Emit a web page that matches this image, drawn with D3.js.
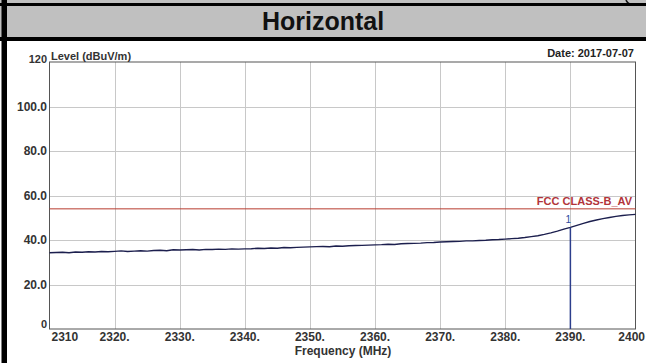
<!DOCTYPE html>
<meta charset="utf-8">
<script src="https://d3js.org/d3.v7.min.js"></script>
<style>
  body { margin: 0; background: #fff; }
  svg text { font-family: Arial, "Liberation Sans", sans-serif; }
</style>
<div id="viz"></div>
<script>
// chart data
const title = "Horizontal";
const dateLabel = "Date: 2017-07-07";
const yTicks = [0, 20, 40, 60, 80, 100, 120];
const yTickLabels = ["0", "20.0", "40.0", "60.0", "80.0", "100.0", "120"];
const xTicks = [2310, 2320, 2330, 2340, 2350, 2360, 2370, 2380, 2390, 2400];
const xTickLabels = ["2310", "2320.", "2330.", "2340.", "2350.", "2360.", "2370.", "2380.", "2390.", "2400"];
const freqStart = 2310, freqStep = 1;
const level = [
  34.3, 34.4, 34.5, 34.3, 34.6, 34.5, 34.7, 34.6, 34.8, 34.7,
  34.9, 35.1, 34.8, 35.0, 35.2, 35.0, 35.3, 35.4, 35.2, 35.6,
  35.5, 35.6, 35.7, 35.5, 35.8, 35.7, 35.9, 35.8, 36.0, 35.9,
  36.0, 36.1, 36.3, 36.2, 36.4, 36.3, 36.6, 36.5, 36.7, 36.8,
  36.9, 37.0, 37.1, 37.0, 37.3, 37.2, 37.4, 37.5, 37.6, 37.7,
  37.8, 37.9, 38.1, 38.0, 38.3, 38.4, 38.5, 38.6, 38.8, 38.9,
  39.1, 39.2, 39.3, 39.4, 39.6, 39.6, 39.8, 39.9, 40.1, 40.2,
  40.4, 40.6, 40.8, 41.1, 41.5, 41.9, 42.5, 43.2, 44.0, 44.9,
  45.7, 46.6, 47.5, 48.3, 49.0, 49.6, 50.1, 50.6, 51.0, 51.3,
  51.5
];
const limitName = "FCC CLASS-B_AV";
const limitValue = 54;
const markerFreq = [2390];
const markerLevel = [45.7];
const markerNames = ["1"];

const W = 646, H = 363;
const margin = {top: 62, right: 10.5, bottom: 34, left: 49.5};

const svg = d3.select("#viz").append("svg")
  .attr("width", W).attr("height", H);

// header area
svg.append("rect").attr("x", 0).attr("y", 0).attr("width", W).attr("height", 41).attr("fill", "#c0c0c0");
// tail of a bracket from the row above
svg.append("path").attr("d", "M626,0 Q627,3 631,5")
  .attr("fill", "none").attr("stroke", "#111").attr("stroke-width", 1.5);
svg.append("rect").attr("x", 0).attr("y", 3).attr("width", W).attr("height", 3).attr("fill", "#000");
svg.append("rect").attr("x", 0).attr("y", 37).attr("width", W).attr("height", 4).attr("fill", "#000");
svg.append("rect").attr("x", 1.5).attr("y", 0).attr("width", 5.5).attr("height", H).attr("fill", "#000");
svg.append("text")
  .attr("x", 323).attr("y", 30)
  .attr("text-anchor", "middle")
  .attr("font-size", 25).attr("font-weight", "bold").attr("fill", "#111")
  .text(title);

const x = d3.scaleLinear().domain([2310, 2400]).range([margin.left, W - margin.right]);
const y = d3.scaleLinear().domain([0, 120]).range([H - margin.bottom, margin.top]);

// grid
svg.append("g").selectAll("line").data(xTicks.slice(1, -1)).join("line")
  .attr("x1", d => Math.round(x(d)) + 0.5).attr("x2", d => Math.round(x(d)) + 0.5)
  .attr("y1", y(120)).attr("y2", y(0))
  .attr("stroke", "#c8c8c8");
svg.append("g").selectAll("line").data(yTicks.slice(1, -1)).join("line")
  .attr("y1", d => Math.round(y(d)) + 0.5).attr("y2", d => Math.round(y(d)) + 0.5)
  .attr("x1", x(2310)).attr("x2", x(2400))
  .attr("stroke", "#c8c8c8");

// frame
svg.append("rect")
  .attr("x", x(2310)).attr("y", y(120))
  .attr("width", x(2400) - x(2310)).attr("height", y(0) - y(120))
  .attr("fill", "none").attr("stroke", "#555");

// y labels
svg.append("g").selectAll("text").data(yTicks).join("text")
  .attr("x", 47)
  .attr("y", d => d === 120 ? y(d) + 1 : d === 0 ? y(d) - 1 : y(d) + 4)
  .attr("text-anchor", "end")
  .attr("font-size", d => (d === 0 || d === 120) ? 11 : 12)
  .attr("font-weight", "bold").attr("fill", "#333")
  .text((d, i) => yTickLabels[i]);

// x labels
svg.append("g").selectAll("text").data(xTicks).join("text")
  .attr("x", (d, i) => i === 0 ? x(d) + 2 : i === xTicks.length - 1 ? W - 1 : x(d))
  .attr("y", 341)
  .attr("text-anchor", (d, i) => i === 0 ? "start" : i === xTicks.length - 1 ? "end" : "middle")
  .attr("font-size", 12).attr("font-weight", "bold").attr("fill", "#333")
  .text((d, i) => xTickLabels[i]);

svg.append("text").attr("x", 343).attr("y", 355)
  .attr("text-anchor", "middle").attr("font-size", 12).attr("font-weight", "bold").attr("fill", "#333")
  .text("Frequency (MHz)");
svg.append("text").attr("x", 51).attr("y", 60)
  .attr("font-size", 11).attr("font-weight", "bold").attr("fill", "#333")
  .text("Level (dBuV/m)");
svg.append("text").attr("x", 634).attr("y", 57)
  .attr("text-anchor", "end").attr("font-size", 11).attr("font-weight", "bold").attr("fill", "#222")
  .text(dateLabel);

// limit line
svg.append("line")
  .attr("x1", x(2310)).attr("x2", x(2400))
  .attr("y1", y(limitValue)).attr("y2", y(limitValue))
  .attr("stroke", "#b83a2e").attr("stroke-width", 1);
svg.append("text").attr("x", 632).attr("y", y(limitValue) - 3.5)
  .attr("text-anchor", "end").attr("font-size", 11).attr("font-weight", "bold").attr("fill", "#b2343a")
  .text(limitName);

// trace
const line = d3.line()
  .x((d, i) => x(freqStart + i * freqStep))
  .y(d => y(d));
svg.append("path").datum(level)
  .attr("d", line)
  .attr("fill", "none").attr("stroke", "#1c1f4e").attr("stroke-width", 1.4);

// markers
markerFreq.forEach((f, i) => {
  svg.append("line")
    .attr("x1", x(f)).attr("x2", x(f))
    .attr("y1", y(markerLevel[i])).attr("y2", y(0))
    .attr("stroke", "#2c3e8c").attr("stroke-width", 1.5);
  svg.append("text").attr("x", x(f) - 2).attr("y", y(markerLevel[i]) - 4)
    .attr("text-anchor", "middle").attr("font-size", 10).attr("fill", "#2c4aa0")
    .text(markerNames[i]);
});
</script>
